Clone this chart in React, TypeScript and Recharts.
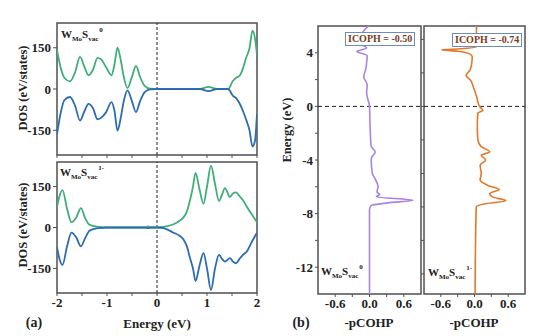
import React from 'react';
import { LineChart, Line, XAxis, YAxis, ReferenceLine, ReferenceArea } from 'recharts';

// ---------- DOS (a) top: W_Mo S_vac^0 ----------
const eTop = [-2.0, -1.93, -1.85, -1.74, -1.64, -1.54, -1.45, -1.37, -1.28, -1.19, -1.12, -1.02, -0.91, -0.85, -0.79, -0.72, -0.66, -0.59, -0.5, -0.42, -0.34, -0.25, -0.14, 0, 0.5, 0.86, 1.03, 1.2, 1.42, 1.52, 1.59, 1.65, 1.72, 1.78, 1.85, 1.91, 1.96, 2.0];
const greenTop = [141, 80, 40, 28, 60, 117, 80, 50, 70, 113, 108, 80, 50, 90, 150, 100, 40, 3, 45, 84, 45, 12, 1, 0, 0, 0, 8, 0, 0, 30, 42, 48, 75, 112, 148, 212, 184, 125];
const blueTop = [-165, -90, -40, -29, -60, -115, -80, -54, -70, -110, -105, -85, -48, -80, -151, -100, -40, -5, -45, -84, -45, -12, -1, 0, 0, 0, -8, 0, 0, -25, -35, -52, -80, -110, -150, -209, -188, -90];

// ---------- DOS (a) bottom: W_Mo S_vac^1- ----------
const eBot = [-2.0, -1.95, -1.89, -1.8, -1.71, -1.62, -1.52, -1.44, -1.35, -1.25, -1.15, -1.0, -0.5, -0.25, -0.18, -0.1, 0, 0.15, 0.33, 0.45, 0.53, 0.6, 0.66, 0.72, 0.77, 0.85, 0.93, 1.0, 1.08, 1.16, 1.24, 1.3, 1.36, 1.46, 1.52, 1.58, 1.65, 1.72, 1.8, 1.89, 2.0];
const greenBot = [75, 115, 137, 70, 19, 35, 71, 35, 10, 5, 2, 0, 0, 0, 4, 0, 0, 3, 12, 25, 37, 60, 100, 150, 200, 140, 87, 150, 227, 160, 97, 120, 144, 112, 125, 129, 115, 100, 75, 50, 19];
const blueBot = [-72, -115, -137, -70, -19, -35, -69, -40, -12, -5, -2, 0, 0, 0, -2, 0, 0, -3, -19, -30, -44, -70, -112, -150, -196, -140, -94, -150, -229, -150, -100, -115, -125, -112, -125, -131, -115, -100, -87, -55, -19];

// ---------- COHP (b) left: W_Mo S_vac^0 ----------
const cohp0E = [6.0, 5.45, 4.7, 4.35, 4.1, 3.8, 3.3, 2.9, 2.2, 1.6, 1.0, 0.0, -1.5, -3.0, -3.4, -3.8, -4.0, -5.0, -5.5, -6.0, -6.4, -6.55, -6.75, -7.0, -7.2, -7.4, -7.7, -14];
const cohp0V = [-0.01, -0.13, -0.16, -0.05, -0.22, -0.04, -0.05, -0.06, -0.1, -0.04, -0.05, 0.0, 0.01, 0.03, 0.1, 0.04, 0.03, 0.05, 0.11, 0.15, 0.13, 0.18, 0.12, 0.76, 0.32, 0.03, 0.0, 0.0];

// ---------- COHP (b) right: W_Mo S_vac^1- ----------
const cohp1E = [6.0, 5.0, 4.45, 4.3, 4.22, 4.12, 3.9, 3.7, 3.2, 2.7, 2.3, 1.95, 1.45, 0.7, 0.0, -0.3, -0.5, -1.5, -2.5, -3.0, -3.4, -3.65, -4.0, -4.4, -5.0, -5.5, -5.9, -6.2, -6.5, -6.75, -7.05, -7.25, -7.5, -14];
const cohp1V = [0.035, 0.035, 0.03, -0.25, -0.59, -0.3, -0.08, -0.04, -0.05, -0.08, -0.15, -0.07, -0.02, 0.04, 0.09, 0.15, 0.06, 0.05, 0.06, 0.12, 0.27, 0.12, 0.2, 0.1, 0.12, 0.1, 0.24, 0.44, 0.27, 0.32, 0.56, 0.22, 0.03, 0.01];

// ---------- ticks & labels ----------
const dosXTicks = [-2, -1.5, -1, -0.5, 0, 0.5, 1, 1.5, 2];
const dosYTicks = [-150, 0, 150];
const cohpXTicks = [-0.6, -0.3, 0, 0.3, 0.6];
const cohpYTicksLeft = [-12, -10, -8, -6, -4, -2, 0, 2, 4];
const cohpYTicksRight = [-12.5, -10, -7.5, -5, -2.5, 0, 2.5, 5];
const icohpLabels = ['ICOPH = -0.50', 'ICOPH = -0.74'];

const dosTop = eTop.map((e, i) => ({ e, g: greenTop[i], b: blueTop[i] }));
const dosBot = eBot.map((e, i) => ({ e, g: greenBot[i], b: blueBot[i] }));
const cohp0 = cohp0E.map((e, i) => ({ e, v: cohp0V[i] }));
const cohp1 = cohp1E.map((e, i) => ({ e, v: cohp1V[i] }));

const FONT = '"Liberation Serif", "Times New Roman", serif';
const GREEN = '#3fae78';
const BLUE = '#2b6cb3';
const PURPLE = '#a985e0';
const ORANGE = '#e2782a';
const FRAME = '#505050';
const tickStyle = { fontFamily: FONT, fontSize: 13, fontWeight: 'bold', fill: '#222' };

function WLabel({ x, y, sup }: { x: number; y: number; sup: string }) {
  return (
    <text x={x} y={y} fontFamily={FONT} fontWeight="bold" fontSize={11} fill="#222">
      W
      <tspan fontSize={7} dy={3}>Mo</tspan>
      <tspan fontSize={11} dy={-3}>S</tspan>
      <tspan fontSize={7} dy={3}>vac</tspan>
      <tspan fontSize={7} dx={1} dy={-9}>{sup}</tspan>
    </text>
  );
}

function DosPanel({ data, top, bottomLabels }: { data: any[]; top: number; bottomLabels: boolean }) {
  const height = bottomLabels ? 336 : 160;
  return (
    <div style={{ position: 'absolute', left: 0, top: 0 }}>
      <LineChart
        width={262}
        height={height}
        data={data}
        margin={{ top, right: 5, bottom: bottomLabels ? 13 : 0, left: 0 }}
      >
        <XAxis
          type="number"
          dataKey="e"
          domain={[-2, 2]}
          ticks={dosXTicks}
          allowDataOverflow
          height={bottomLabels ? 30 : 5}
          axisLine={false}
          tickSize={3}
          stroke={FRAME}
          tick={tickStyle}
          tickFormatter={(v: number) => (bottomLabels && Number.isInteger(v) ? String(v) : '')}
        />
        <YAxis
          type="number"
          domain={[-240, 240]}
          ticks={dosYTicks}
          allowDataOverflow
          width={57}
          axisLine={false}
          tickSize={4}
          stroke={FRAME}
          tick={tickStyle}
        />
        <ReferenceLine x={0} stroke="#222" strokeDasharray="3 2" strokeWidth={1} />
        <Line dataKey="g" type="monotone" stroke={GREEN} strokeWidth={1.8} dot={false} isAnimationActive={false} />
        <Line dataKey="b" type="monotone" stroke={BLUE} strokeWidth={1.8} dot={false} isAnimationActive={false} />
        <ReferenceArea x1={-2} x2={2} y1={-240} y2={240} fill="none" stroke={FRAME} strokeWidth={1.5} ifOverflow="visible" />
      </LineChart>
    </div>
  );
}

function CohpPanel({ data, left, width, yWidth, rightMargin, yTicks, showYLabels, color }: any) {
  return (
    <div style={{ position: 'absolute', left, top: 0 }}>
      <LineChart
        layout="vertical"
        width={width}
        height={336}
        data={data}
        margin={{ top: 26, right: rightMargin, bottom: 12, left: 0 }}
      >
        <XAxis
          type="number"
          domain={[-0.9, 0.9]}
          ticks={cohpXTicks}
          allowDataOverflow
          height={30}
          axisLine={false}
          tickSize={3}
          stroke={FRAME}
          tick={tickStyle}
          tickFormatter={(v: number) => (Math.abs(Math.abs(v) - 0.3) < 1e-6 ? '' : v.toFixed(1))}
        />
        <YAxis
          type="number"
          dataKey="e"
          domain={[-14, 6]}
          ticks={yTicks}
          allowDataOverflow
          reversed
          width={yWidth}
          axisLine={false}
          tickSize={3}
          stroke={FRAME}
          tick={tickStyle}
          tickFormatter={(v: number) => (showYLabels && v % 4 === 0 ? String(v) : '')}
        />
        <ReferenceLine y={0} stroke="#222" strokeDasharray="4 3" strokeWidth={1} />
        <Line dataKey="v" type="monotone" stroke={color} strokeWidth={1.6} dot={false} isAnimationActive={false} />
        <ReferenceArea x1={-0.9} x2={0.9} y1={-14} y2={6} fill="none" stroke={FRAME} strokeWidth={1.5} ifOverflow="visible" />
      </LineChart>
    </div>
  );
}

const boxStyle: React.CSSProperties = {
  position: 'absolute',
  fontFamily: FONT,
  fontWeight: 'bold',
  fontSize: 10,
  color: '#7a3c1c',
  background: '#fff',
  border: '1px solid #6a8fbf',
  padding: '0px 2px',
  lineHeight: '12px',
  whiteSpace: 'nowrap',
};

export default function App() {
  return (
    <div style={{ position: 'absolute', left: 0, top: 0, width: 546, height: 336, background: '#fff', overflow: 'hidden' }}>
      <DosPanel data={dosTop} top={23} bottomLabels={false} />
      <DosPanel data={dosBot} top={162} bottomLabels={true} />
      <CohpPanel data={cohp0} left={280} width={145} yWidth={38} rightMargin={4} yTicks={cohpYTicksLeft} showYLabels={true} color={PURPLE} />
      <CohpPanel data={cohp1} left={420} width={126} yWidth={4} rightMargin={21} yTicks={cohpYTicksRight} showYLabels={false} color={ORANGE} />
      <div style={{ ...boxStyle, left: 345, top: 32 }}>{icohpLabels[0]}</div>
      <div style={{ ...boxStyle, left: 452, top: 33 }}>{icohpLabels[1]}</div>
      <svg width={546} height={336} style={{ position: 'absolute', left: 0, top: 0, pointerEvents: 'none' }}>
        <g fontFamily={FONT} fontWeight="bold" fill="#222">
          <text x={23} y={88} fontSize={12.5} textAnchor="middle" dominantBaseline="central" transform="rotate(-90 23 88)">DOS (eV/states)</text>
          <text x={23} y={225} fontSize={12.5} textAnchor="middle" dominantBaseline="central" transform="rotate(-90 23 225)">DOS (eV/states)</text>
          <text x={157} y={323} fontSize={13} textAnchor="middle" dominantBaseline="central">Energy (eV)</text>
          <text x={34} y={322} fontSize={14} textAnchor="middle" dominantBaseline="central">(a)</text>
          <text x={301} y={322} fontSize={14} textAnchor="middle" dominantBaseline="central">(b)</text>
          <text x={369} y={322} fontSize={13} textAnchor="middle" dominantBaseline="central">-pCOHP</text>
          <text x={474} y={322} fontSize={13} textAnchor="middle" dominantBaseline="central">-pCOHP</text>
          <text x={287} y={130} fontSize={12.5} textAnchor="middle" dominantBaseline="central" transform="rotate(-90 287 130)">Energy (eV)</text>
        </g>
        <WLabel x={61} y={38} sup="0" />
        <WLabel x={60} y={176} sup="1-" />
        <WLabel x={321} y={275} sup="0" />
        <WLabel x={428} y={276} sup="1-" />
      </svg>
    </div>
  );
}
